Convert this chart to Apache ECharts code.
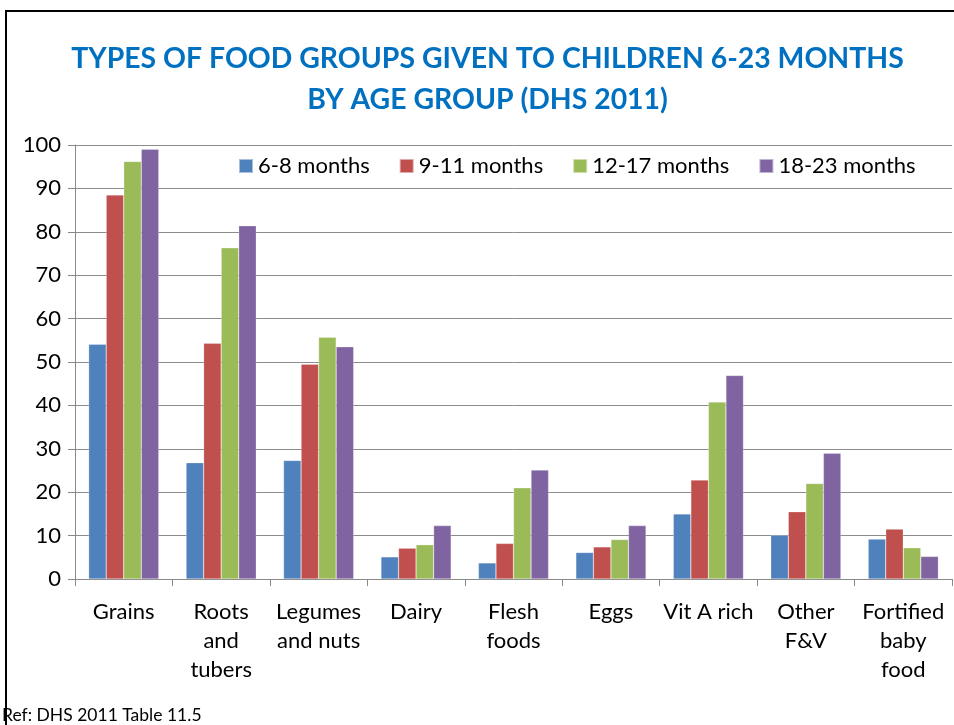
<!DOCTYPE html>
<html><head><meta charset="utf-8">
<script src="https://cdn.jsdelivr.net/npm/echarts@6/dist/echarts.min.js"></script>
<style>html,body{margin:0;padding:0;background:#fff}#c{width:954px;height:725px}</style>
</head><body><div id="c"></div>
<script>
const categories = ['Grains','Roots\nand\ntubers','Legumes\nand nuts','Dairy','Flesh\nfoods','Eggs','Vit A rich','Other\nF&V','Fortified\nbaby\nfood'];
const seriesNames = ['6-8 months','9-11 months','12-17 months','18-23 months'];
const m6_8   = [54.1, 26.8, 27.3, 5.1, 3.7, 6.1, 15.0, 10.1, 9.2];
const m9_11  = [88.5, 54.3, 49.5, 7.1, 8.2, 7.4, 22.8, 15.5, 11.5];
const m12_17 = [96.2, 76.3, 55.7, 7.9, 21.0, 9.1, 40.8, 22.0, 7.2];
const m18_23 = [99.0, 81.4, 53.5, 12.3, 25.1, 12.3, 46.9, 29.0, 5.2];
const yTicks = [0,10,20,30,40,50,60,70,80,90,100];
const colors = ['#4F81BD','#C0504D','#9BBB59','#8064A2'];
const titleText = 'TYPES OF FOOD GROUPS GIVEN TO CHILDREN 6-23 MONTHS\nBY AGE GROUP (DHS 2011)';
const FONT = 'Lato';
const chart = echarts.init(document.getElementById('c'));
const data = [m6_8, m9_11, m12_17, m18_23];
chart.setOption({
  animation: false,
  textStyle: {fontFamily: FONT},
  legend: {
    top: 155, left: 238, padding: 0,
    itemWidth: 14, itemHeight: 14, itemGap: 29,
    icon: 'rect',
    textStyle: {fontSize: 22, color: '#000', fontFamily: FONT, padding: [0,0,0,0]},
    data: seriesNames
  },
  grid: {left: 75, right: 2, top: 145, bottom: 146, containLabel: false},
  xAxis: {
    type: 'category', data: categories,
    axisLine: {lineStyle: {color: '#888', width: 1}},
    axisTick: {show: true, length: 7, lineStyle: {color: '#888'}},
    axisLabel: {fontSize: 22, color: '#000', lineHeight: 29, margin: 18, interval: 0, fontFamily: FONT},
    splitLine: {show: false}
  },
  yAxis: {
    type: 'value', min: 0, max: 100, interval: 10,
    axisLine: {show: true, lineStyle: {color: '#888'}},
    axisTick: {show: true, length: 7, lineStyle: {color: '#888'}},
    axisLabel: {fontSize: 22, color: '#000', margin: 14, fontFamily: FONT},
    splitLine: {lineStyle: {color: '#8c8c8c', width: 1}}
  },
  series: seriesNames.map((n,i)=>({
    name: n, type: 'bar', data: data[i],
    barGap: '0%', barCategoryGap: '28%',
    itemStyle: {color: colors[i], borderColor: 'rgba(255,255,255,0.5)', borderWidth: 0.5}
  })),
  graphic: [
    {type:'line', shape:{x1:5,y1:11,x2:954,y2:11}, style:{stroke:'#000', lineWidth:2}},
    {type:'line', shape:{x1:6,y1:10,x2:6,y2:725}, style:{stroke:'#000', lineWidth:2}},
    {type:'text', x: 487.5, y: 38, style:{text: titleText, align:'center', verticalAlign:'top', fill:'#0070C0', fontSize: 28.4, fontWeight:'bold', fontFamily: FONT, lineHeight: 41}},
    {type:'text', left: 2, top: 706, style:{text:'Ref: DHS 2011 Table 11.5', fontSize: 17.5, fill:'#000', fontFamily: FONT}}
  ]
});
</script></body></html>
